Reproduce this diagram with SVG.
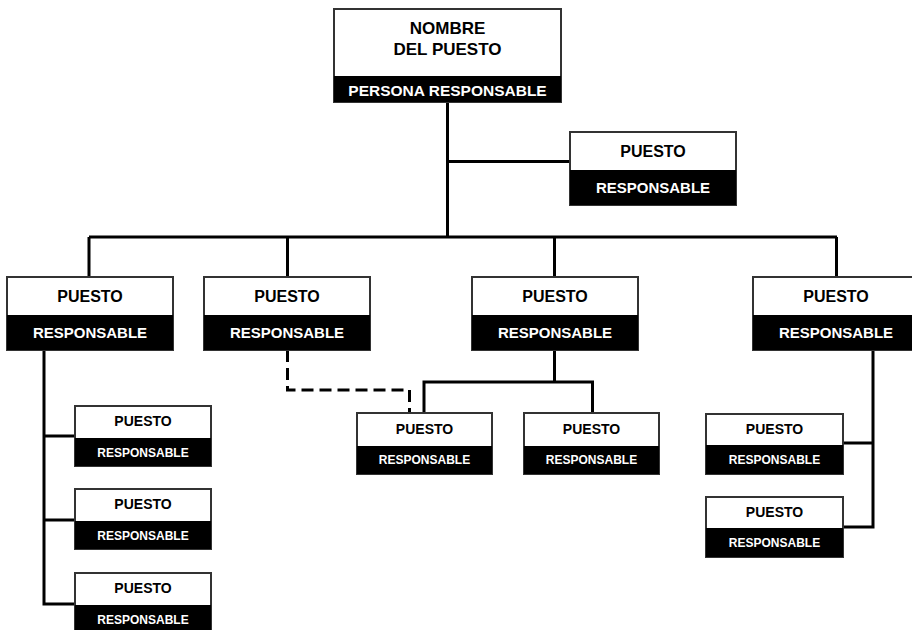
<svg xmlns="http://www.w3.org/2000/svg" width="912" height="630" viewBox="0 0 912 630">
  <style>
    .box { fill: #fff; stroke: #333; stroke-width: 2; }
    .band { fill: #000; }
    .title { font-family: "Liberation Sans", Arial, sans-serif; font-weight: bold; fill: #000; text-anchor: middle; }
    .label { font-family: "Liberation Sans", Arial, sans-serif; font-weight: bold; fill: #fff; text-anchor: middle; }
    .t-lg { font-size: 17px; }
    .t-md { font-size: 16px; }
    .t-sm { font-size: 14px; }
    .l-md { font-size: 15px; }
    .l-sm { font-size: 12px; }
    .wire { fill: none; stroke: #000; stroke-width: 3; }
    .dashed { stroke-dasharray: 12 6; }
  </style>

  <!-- connectors -->
  <g id="connectors">
    <path class="wire" d="M447.5 102 V237"/>
    <path class="wire" d="M447.5 161.5 H570"/>
    <path class="wire" d="M89 237 H837"/>
    <path class="wire" d="M89 237 V277 M287.5 237 V277 M554.5 237 V277 M836.5 237 V277"/>
    <path class="wire" d="M44 350 V604 M42.5 436 H75 M42.5 520 H75 M42.5 604 H75"/>
    <path class="wire dashed" d="M287.5 350 V390 H409.5 V413"/>
    <path class="wire" d="M554.5 350 V382 M424 382 H592.5 M424 380.5 V413 M592.5 380.5 V413"/>
    <path class="wire" d="M873 350 V528.5 M843 443 H874.5 M843 527 H874.5"/>
  </g>

  <!-- root -->
  <g id="root">
    <rect class="box" x="334" y="9" width="227" height="93"/>
    <rect class="band" x="334" y="76" width="227" height="26"/>
    <text class="title t-lg" x="447.5" y="34">NOMBRE</text>
    <text class="title t-lg" x="447.5" y="55">DEL PUESTO</text>
    <text class="label" style="font-size:15.5px" x="447.5" y="96">PERSONA RESPONSABLE</text>
  </g>

  <!-- staff position beside root -->
  <g id="staff">
    <rect class="box" x="570" y="132" width="166" height="73"/>
    <rect class="band" x="570" y="170" width="166" height="35"/>
    <text class="title t-md" x="653" y="157">PUESTO</text>
    <text class="label l-md" x="653" y="193">RESPONSABLE</text>
  </g>

  <!-- second level -->
  <g id="pos-1">
    <rect class="box" x="7" y="277" width="166" height="73"/>
    <rect class="band" x="7" y="315" width="166" height="35"/>
    <text class="title t-md" x="90" y="302">PUESTO</text>
    <text class="label l-md" x="90" y="338">RESPONSABLE</text>
  </g>
  <g id="pos-2">
    <rect class="box" x="204" y="277" width="166" height="73"/>
    <rect class="band" x="204" y="315" width="166" height="35"/>
    <text class="title t-md" x="287" y="302">PUESTO</text>
    <text class="label l-md" x="287" y="338">RESPONSABLE</text>
  </g>
  <g id="pos-3">
    <rect class="box" x="472" y="277" width="166" height="73"/>
    <rect class="band" x="472" y="315" width="166" height="35"/>
    <text class="title t-md" x="555" y="302">PUESTO</text>
    <text class="label l-md" x="555" y="338">RESPONSABLE</text>
  </g>
  <g id="pos-4">
    <rect class="box" x="753" y="277" width="166" height="73"/>
    <rect class="band" x="753" y="315" width="166" height="35"/>
    <text class="title t-md" x="836" y="302">PUESTO</text>
    <text class="label l-md" x="836" y="338">RESPONSABLE</text>
  </g>

  <!-- third level, left column -->
  <g id="pos-1-1">
    <rect class="box" x="75" y="406" width="136" height="60"/>
    <rect class="band" x="75" y="438" width="136" height="28"/>
    <text class="title t-sm" x="143" y="426">PUESTO</text>
    <text class="label l-sm" x="143" y="456.5">RESPONSABLE</text>
  </g>
  <g id="pos-1-2">
    <rect class="box" x="75" y="489" width="136" height="60"/>
    <rect class="band" x="75" y="521" width="136" height="28"/>
    <text class="title t-sm" x="143" y="509">PUESTO</text>
    <text class="label l-sm" x="143" y="539.5">RESPONSABLE</text>
  </g>
  <g id="pos-1-3">
    <rect class="box" x="75" y="573" width="136" height="60"/>
    <rect class="band" x="75" y="605" width="136" height="28"/>
    <text class="title t-sm" x="143" y="593">PUESTO</text>
    <text class="label l-sm" x="143" y="623.5">RESPONSABLE</text>
  </g>

  <!-- third level, centre -->
  <g id="pos-3-1">
    <rect class="box" x="357" y="413" width="135" height="61"/>
    <rect class="band" x="357" y="446" width="135" height="28"/>
    <text class="title t-sm" x="424.5" y="433.5">PUESTO</text>
    <text class="label l-sm" x="424.5" y="464">RESPONSABLE</text>
  </g>
  <g id="pos-3-2">
    <rect class="box" x="524" y="413" width="135" height="61"/>
    <rect class="band" x="524" y="446" width="135" height="28"/>
    <text class="title t-sm" x="591.5" y="433.5">PUESTO</text>
    <text class="label l-sm" x="591.5" y="464">RESPONSABLE</text>
  </g>

  <!-- third level, right column -->
  <g id="pos-4-1">
    <rect class="box" x="706" y="414" width="137" height="60"/>
    <rect class="band" x="706" y="445" width="137" height="29"/>
    <text class="title t-sm" x="774.5" y="434">PUESTO</text>
    <text class="label l-sm" x="774.5" y="464">RESPONSABLE</text>
  </g>
  <g id="pos-4-2">
    <rect class="box" x="706" y="497" width="137" height="60"/>
    <rect class="band" x="706" y="528" width="137" height="29"/>
    <text class="title t-sm" x="774.5" y="517">PUESTO</text>
    <text class="label l-sm" x="774.5" y="547">RESPONSABLE</text>
  </g>
</svg>
